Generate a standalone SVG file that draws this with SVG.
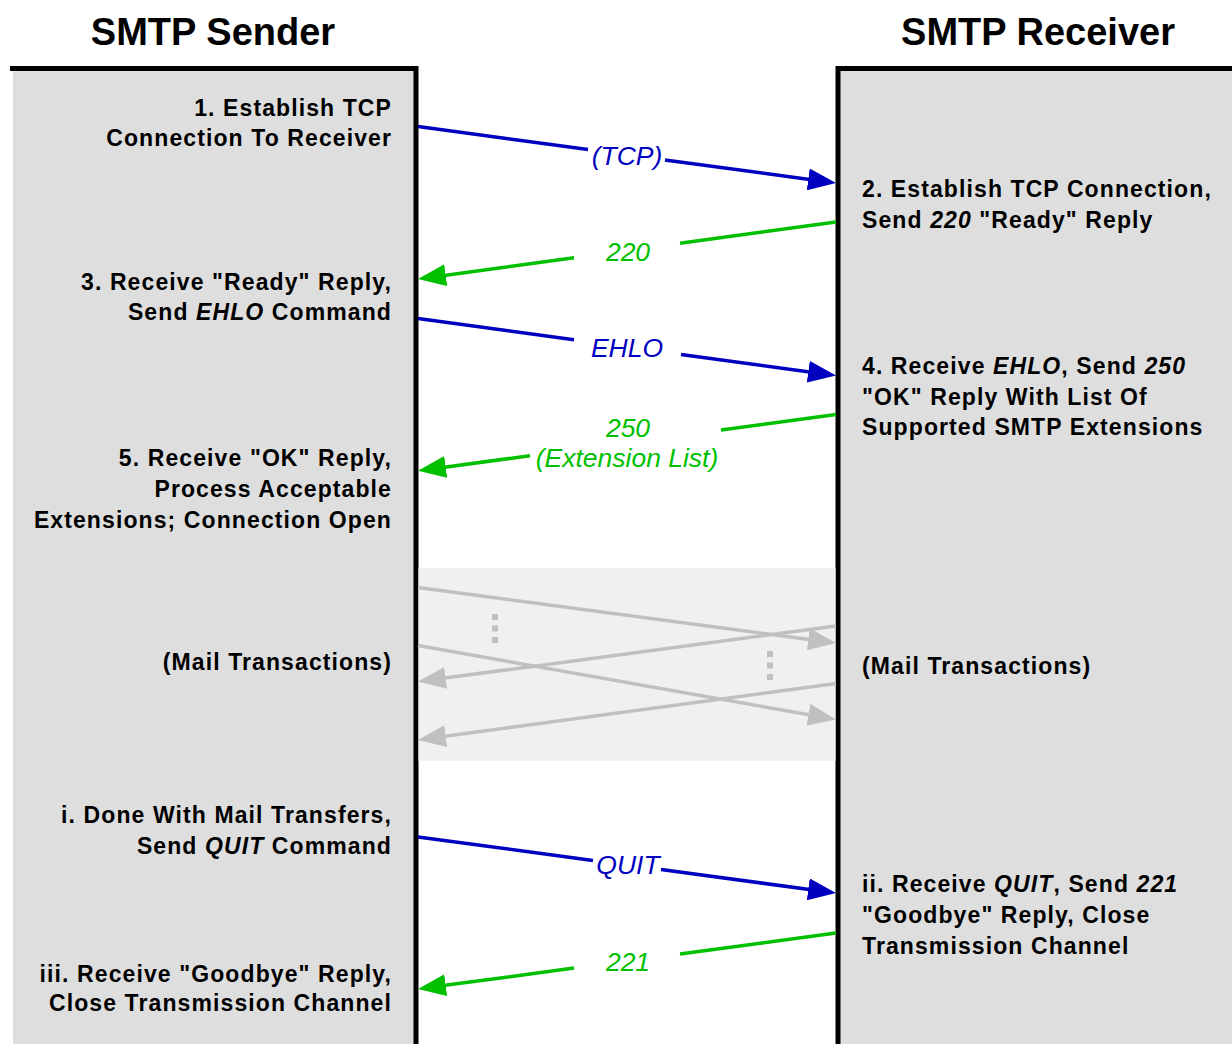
<svg xmlns="http://www.w3.org/2000/svg" width="1232" height="1044" viewBox="0 0 1232 1044">
<style>
.hdr{font-family:"Liberation Sans",Arial,sans-serif;font-weight:bold;font-size:38px;fill:#000;text-anchor:middle}
.t{font-family:"Liberation Sans",Arial,sans-serif;font-weight:bold;font-size:23px;letter-spacing:1.1px;fill:#000}
.l{text-anchor:end}
.i{font-style:italic}
.lbl{font-family:"Liberation Sans",Arial,sans-serif;font-style:italic;font-size:26.5px;text-anchor:middle}
.panel{fill:#dedede}
.edge{stroke:#000;stroke-width:5;fill:none}
.blue{stroke:#0000c0;stroke-width:3.5;fill:none;marker-end:url(#ab)}
.green{stroke:#00c000;stroke-width:3.5;fill:none;marker-end:url(#ag)}
.gray{stroke:#c0c0c0;stroke-width:3.5;fill:none;marker-end:url(#ay)}
.dot{fill:#c0c0c0}
</style>
<defs>
<marker id="ab" markerUnits="userSpaceOnUse" viewBox="0 0 28 22" markerWidth="28" markerHeight="22" refX="18" refY="11" orient="auto"><path d="M0,0 L28,11 L0,22 z" fill="#0000c0"/></marker>
<marker id="ag" markerUnits="userSpaceOnUse" viewBox="0 0 28 22" markerWidth="28" markerHeight="22" refX="18" refY="11" orient="auto"><path d="M0,0 L28,11 L0,22 z" fill="#00c000"/></marker>
<marker id="ay" markerUnits="userSpaceOnUse" viewBox="0 0 28 22" markerWidth="28" markerHeight="22" refX="18" refY="11" orient="auto"><path d="M0,0 L28,11 L0,22 z" fill="#c0c0c0"/></marker>
</defs>
<rect width="1232" height="1044" fill="#fff"/>

<g id="sender">
<rect class="panel" x="13" y="68" width="403" height="976"/>
<path class="edge" d="M10,68.5 H416 V1044"/>
<text class="hdr" x="213" y="45">SMTP Sender</text>
</g>
<g id="receiver">
<rect class="panel" x="838" y="68" width="394" height="976"/>
<path class="edge" d="M838,1044 V68.5 H1232"/>
<text class="hdr" x="1038" y="45">SMTP Receiver</text>
</g>
<g id="mail-band">
<rect x="418.5" y="568" width="417" height="193" fill="#f0f0f0"/>
<rect class="dot" x="492" y="614" width="6" height="6"/>
<rect class="dot" x="492" y="625.5" width="6" height="6"/>
<rect class="dot" x="492" y="637" width="6" height="6"/>
<rect class="dot" x="767" y="651" width="6" height="6"/>
<rect class="dot" x="767" y="662.5" width="6" height="6"/>
<rect class="dot" x="767" y="674" width="6" height="6"/>
</g>

<g id="connectors">
<path class="blue" d="M418,126.5 L588,149.5 M665,159.9 L826.1,181.7"/>
<path class="green" d="M836,222 L680,243.3 M574,257.7 L427.9,277.7"/>
<path class="blue" d="M418,318.5 L574,339.8 M681,354.4 L826.1,374.2"/>
<path class="green" d="M836,414.5 L721,430 M530,455.7 L427.9,469.4"/>
<path class="gray" d="M418,587.5 L826.1,641.7"/>
<path class="gray" d="M836,626 L427.9,680.3"/>
<path class="gray" d="M418,645.5 L826.15,717.8"/>
<path class="gray" d="M836,683.5 L427.9,738.6"/>
<path class="blue" d="M418,837 L593,860.4 M661,869.6 L826.1,891.7"/>
<path class="green" d="M836,933 L680,953.9 M574,968.1 L427.9,987.6"/>
</g>

<g id="labels">
<text class="lbl" x="627" y="165" fill="#0000c0">(TCP)</text>
<text class="lbl" x="628" y="261" fill="#00c000">220</text>
<text class="lbl" x="627" y="357" fill="#0000c0">EHLO</text>
<text class="lbl" x="628" y="437" fill="#00c000">250</text>
<text class="lbl" x="627" y="467" fill="#00c000">(Extension List)</text>
<text class="lbl" x="628" y="874" fill="#0000c0">QUIT</text>
<text class="lbl" x="628" y="971" fill="#00c000">221</text>
</g>

<g id="step1"><text class="t l" x="392" y="116">1. Establish TCP</text><text class="t l" x="392" y="146">Connection To Receiver</text></g>
<g id="step2"><text class="t" x="862" y="197">2. Establish TCP Connection,</text><text class="t" x="862" y="228">Send <tspan class="i">220</tspan> "Ready" Reply</text></g>
<g id="step3"><text class="t l" x="392" y="290">3. Receive "Ready" Reply,</text><text class="t l" x="392" y="320">Send <tspan class="i">EHLO</tspan> Command</text></g>
<g id="step4"><text class="t" x="862" y="374">4. Receive <tspan class="i">EHLO</tspan>, Send <tspan class="i">250</tspan></text><text class="t" x="862" y="405">"OK" Reply With List Of</text><text class="t" x="862" y="435">Supported SMTP Extensions</text></g>
<g id="step5"><text class="t l" x="392" y="466">5. Receive "OK" Reply,</text><text class="t l" x="392" y="497">Process Acceptable</text><text class="t l" x="392" y="528">Extensions; Connection Open</text></g>
<g id="mail-sender"><text class="t l" x="392" y="670">(Mail Transactions)</text></g>
<g id="mail-receiver"><text class="t" x="862" y="674">(Mail Transactions)</text></g>
<g id="step-i"><text class="t l" x="392" y="823">i. Done With Mail Transfers,</text><text class="t l" x="392" y="854">Send <tspan class="i">QUIT</tspan> Command</text></g>
<g id="step-ii"><text class="t" x="862" y="892">ii. Receive <tspan class="i">QUIT</tspan>, Send <tspan class="i">221</tspan></text><text class="t" x="862" y="923">"Goodbye" Reply, Close</text><text class="t" x="862" y="954">Transmission Channel</text></g>
<g id="step-iii"><text class="t l" x="392" y="982">iii. Receive "Goodbye" Reply,</text><text class="t l" x="392" y="1011">Close Transmission Channel</text></g>
</svg>
